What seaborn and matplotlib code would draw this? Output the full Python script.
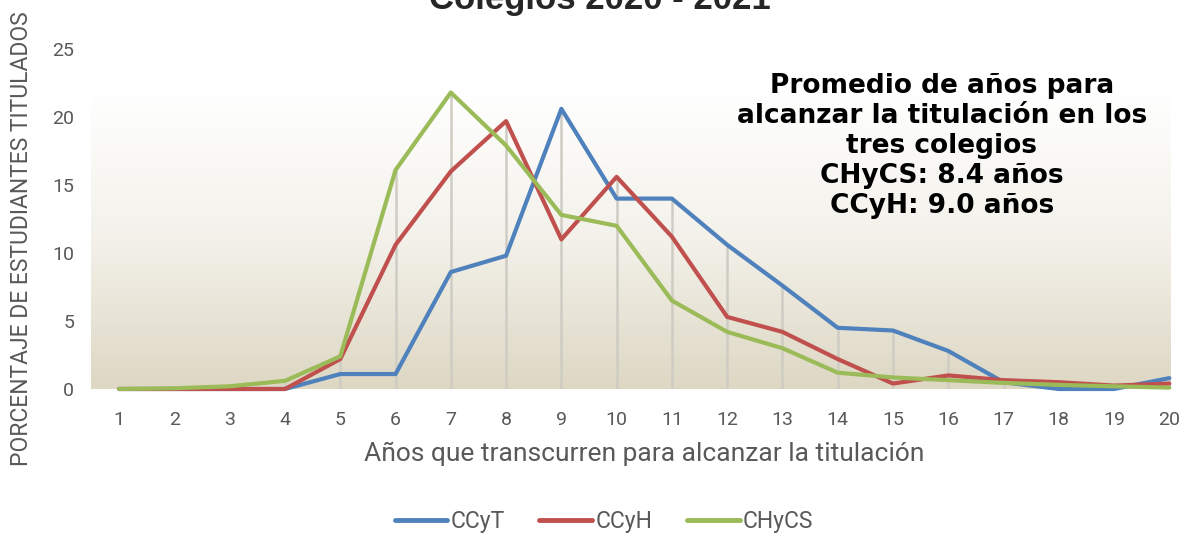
import numpy as np
import pandas as pd
import seaborn as sns
import matplotlib.pyplot as plt
from matplotlib.colors import LinearSegmentedColormap

# data
years = list(range(1, 21))
ccyt = [0, 0, 0, 0, 1.1, 1.1, 8.6, 9.8, 20.6, 14.0, 14.0, 10.6, 7.6, 4.5, 4.3, 2.8, 0.5, 0, 0, 0.8]
ccyh = [0, 0, 0, 0, 2.2, 10.6, 16.0, 19.7, 11.0, 15.6, 11.2, 5.3, 4.2, 2.2, 0.4, 1.0, 0.65, 0.5, 0.25, 0.4]
chycs = [0, 0.05, 0.2, 0.6, 2.4, 16.1, 21.8, 17.9, 12.8, 12.0, 6.5, 4.2, 3.0, 1.2, 0.85, 0.65, 0.45, 0.3, 0.2, 0.1]
series_names = ['CCyT', 'CCyH', 'CHyCS']
colors = ['#4F81BD', '#C0504D', '#9BBB59']

df = pd.DataFrame({'Año': years * 3,
                   'Porcentaje': ccyt + ccyh + chycs,
                   'Colegio': [n for n in series_names for _ in years]})

sns.set_style('white')
plt.rcParams['font.family'] = ['Roboto', 'DejaVu Sans']

fig = plt.figure(figsize=(11.86, 5.35), dpi=100)
ax = fig.add_axes([91 / 1186, 1 - 389 / 535, 1080 / 1186, 340 / 535])

# gradient plot area
cmap = LinearSegmentedColormap.from_list('bg', ['#ddd7c3', '#f3f1ea', '#ffffff'])
grad = np.linspace(0, 1, 256).reshape(-1, 1)
ax.imshow(grad, aspect='auto', cmap=cmap, origin='lower',
          extent=[0.49, 20.03, 0, 22], zorder=0)

# drop lines up to the highest series
tops = np.max([ccyt, ccyh, chycs], axis=0)
ax.vlines(years, 0, tops, color='#cfccc4', lw=1.8, zorder=1)

sns.lineplot(data=df, x='Año', y='Porcentaje', hue='Colegio', palette=colors,
             lw=3, ax=ax, zorder=3, clip_on=False)

ax.set_xlim(0.49, 20.03)
ax.set_ylim(0, 25)
ax.set_xticks(years)
ax.set_yticks([0, 5, 10, 15, 20, 25])
ax.tick_params(axis='both', labelsize=14, colors='#595959', length=0)
ax.tick_params(axis='x', pad=16)
ax.tick_params(axis='y', pad=12)
for s in ax.spines.values():
    s.set_visible(False)

ax.set_xlabel('Años que transcurren para alcanzar la titulación', fontsize=19,
              color='#595959')
ax.xaxis.set_label_coords(553 / 1080, -0.155)
ax.set_ylabel('')
fig.text(22 / 1186, 1 - 239 / 535, 'PORCENTAJE DE ESTUDIANTES TITULADOS', rotation=90,
         ha='center', va='center', fontsize=16.5, color='#595959')

leg = ax.legend(loc='center', bbox_to_anchor=(513 / 1080, -0.39), ncol=3, frameon=False,
                fontsize=16.5, handlelength=2.3, handletextpad=0.15, columnspacing=1.5)
for t in leg.get_texts():
    t.set_color('#595959')
for h in leg.get_lines():
    h.set_linewidth(3.5)

fig.text(942 / 1186, 1 - 146 / 535,
         'Promedio de años para\nalcanzar la titulación en los\ntres colegios\nCHyCS: 8.4 años\nCCyH: 9.0 años',
         ha='center', va='center', fontsize=19, fontweight='bold', color='black',
         linespacing=1.2, family=['DejaVu Sans'])

fig.text(600 / 1186, 1 - 9 / 535, 'Colegios 2020 - 2021', ha='center', va='baseline',
         fontsize=25, fontweight='bold', family=['Liberation Sans', 'DejaVu Sans'])

fig.savefig('out.png', dpi=100)
